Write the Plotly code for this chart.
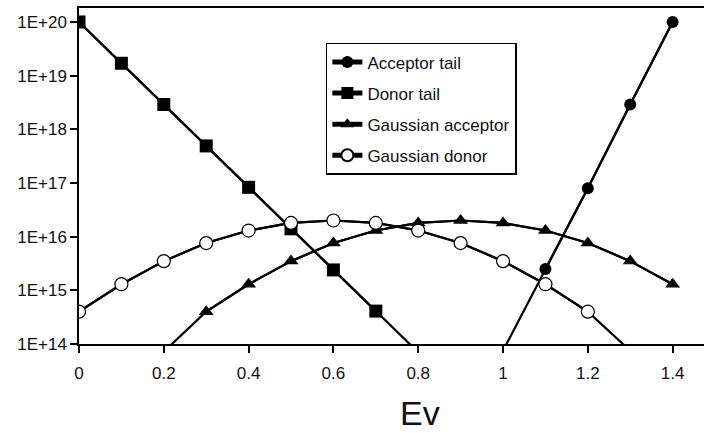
import plotly.graph_objects as go

# Energy axis (eV)
ev_acceptor_tail = [1.0, 1.1, 1.2, 1.3, 1.4]
acceptor_tail = [7.5e13, 2.5e15, 8e16, 2.9e18, 1e20]

ev_donor_tail = [0.0, 0.1, 0.2, 0.3, 0.4, 0.5, 0.6, 0.7, 0.8]
donor_tail = [1e20, 1.7e19, 2.9e18, 4.9e17, 8.3e16, 1.4e16, 2.4e15, 4.1e14, 7e13]

ev_gauss_acceptor = [0.2, 0.3, 0.4, 0.5, 0.6, 0.7, 0.8, 0.9, 1.0, 1.1, 1.2, 1.3, 1.4]
gauss_acceptor = [7.2e13, 4.0e14, 1.3e15, 3.5e15, 7.6e15, 1.3e16, 1.8e16, 2.0e16,
                  1.8e16, 1.3e16, 7.6e15, 3.5e15, 1.3e15]

ev_gauss_donor = [0.0, 0.1, 0.2, 0.3, 0.4, 0.5, 0.6, 0.7, 0.8, 0.9, 1.0, 1.1, 1.2, 1.3]
gauss_donor = [4.0e14, 1.3e15, 3.5e15, 7.6e15, 1.3e16, 1.8e16, 2.0e16, 1.8e16,
               1.3e16, 7.6e15, 3.5e15, 1.3e15, 4.0e14, 7.5e13]

y_tickvals = [1e14, 1e15, 1e16, 1e17, 1e18, 1e19, 1e20]
y_ticktext = ["1E+14", "1E+15", "1E+16", "1E+17", "1E+18", "1E+19", "1E+20"]
x_tickvals = [0, 0.2, 0.4, 0.6, 0.8, 1.0, 1.2, 1.4]
x_ticktext = ["0", "0.2", "0.4", "0.6", "0.8", "1", "1.2", "1.4"]

FONT = "Liberation Sans, Arial, sans-serif"
LINE_W = 2.2
Y_MIN, Y_MAX = 14.0, 20.26          # decades shown on the log axis
X_MAX = 1.474
PLOT_TOP, PLOT_BOTTOM = 8, 344      # pixel rows of the frame

series = [
    ("Acceptor tail", ev_acceptor_tail, acceptor_tail,
     dict(symbol="circle", size=12, color="black")),
    ("Donor tail", ev_donor_tail, donor_tail,
     dict(symbol="square", size=13, color="black")),
    ("Gaussian acceptor", ev_gauss_acceptor, gauss_acceptor,
     dict(symbol="triangle-up", size=13, color="black")),
    ("Gaussian donor", ev_gauss_donor, gauss_donor,
     dict(symbol="circle", size=13, color="white", line=dict(color="black", width=1.2))),
]

fig = go.Figure()

# full curves (lines only), clipped where they drop below 1E+14
for name, xs, ys, mk in series:
    fig.add_trace(go.Scatter(
        x=xs, y=ys, mode="lines",
        line=dict(color="black", width=LINE_W),
        showlegend=False, hoverinfo="skip",
    ))

# markers only where the value lies inside the axis range
for name, xs, ys, mk in series:
    pts = [(x, y) for x, y in zip(xs, ys) if y >= 10 ** Y_MIN]
    fig.add_trace(go.Scatter(
        x=[p[0] for p in pts], y=[p[1] for p in pts],
        name=name, legendgroup=name,
        mode="lines+markers",
        line=dict(color="black", width=LINE_W),
        marker=mk,
    ))

plot_h = PLOT_BOTTOM - PLOT_TOP

fig.update_layout(
    width=704, height=433,
    margin=dict(l=79, r=0, t=PLOT_TOP, b=433 - PLOT_BOTTOM),
    paper_bgcolor="white",
    plot_bgcolor="white",
    font=dict(family=FONT, size=17, color="#111"),
    showlegend=True,
    legend=dict(
        x=0.395, y=0.896, xanchor="left", yanchor="top",
        bgcolor="white", bordercolor="black", borderwidth=1.5,
        font=dict(family=FONT, size=17, color="#111"),
        itemsizing="constant",
        tracegroupgap=6,
    ),
    xaxis=dict(
        range=[0, X_MAX],
        tickvals=x_tickvals, ticktext=x_ticktext,
        showgrid=False, zeroline=False,
        showline=True, linecolor="black", linewidth=1.5, mirror=True,
        ticks="outside", ticklen=7, tickwidth=1.5, tickcolor="black",
        ticklabelstandoff=6,
    ),
    yaxis=dict(
        type="log",
        range=[Y_MIN, Y_MAX],
        tickvals=y_tickvals, ticktext=y_ticktext,
        showgrid=False, zeroline=False,
        showline=True, linecolor="black", linewidth=1.5,
        ticks="outside", ticklen=7, tickwidth=1.5, tickcolor="black",
    ),
    annotations=[dict(
        text="Ev", xref="paper", yref="paper",
        x=0.546, y=-(413 - PLOT_BOTTOM) / plot_h,
        xanchor="center", yanchor="middle", showarrow=False,
        font=dict(family=FONT, size=34, color="#111"),
    )],
)

fig.write_html("out.html")
